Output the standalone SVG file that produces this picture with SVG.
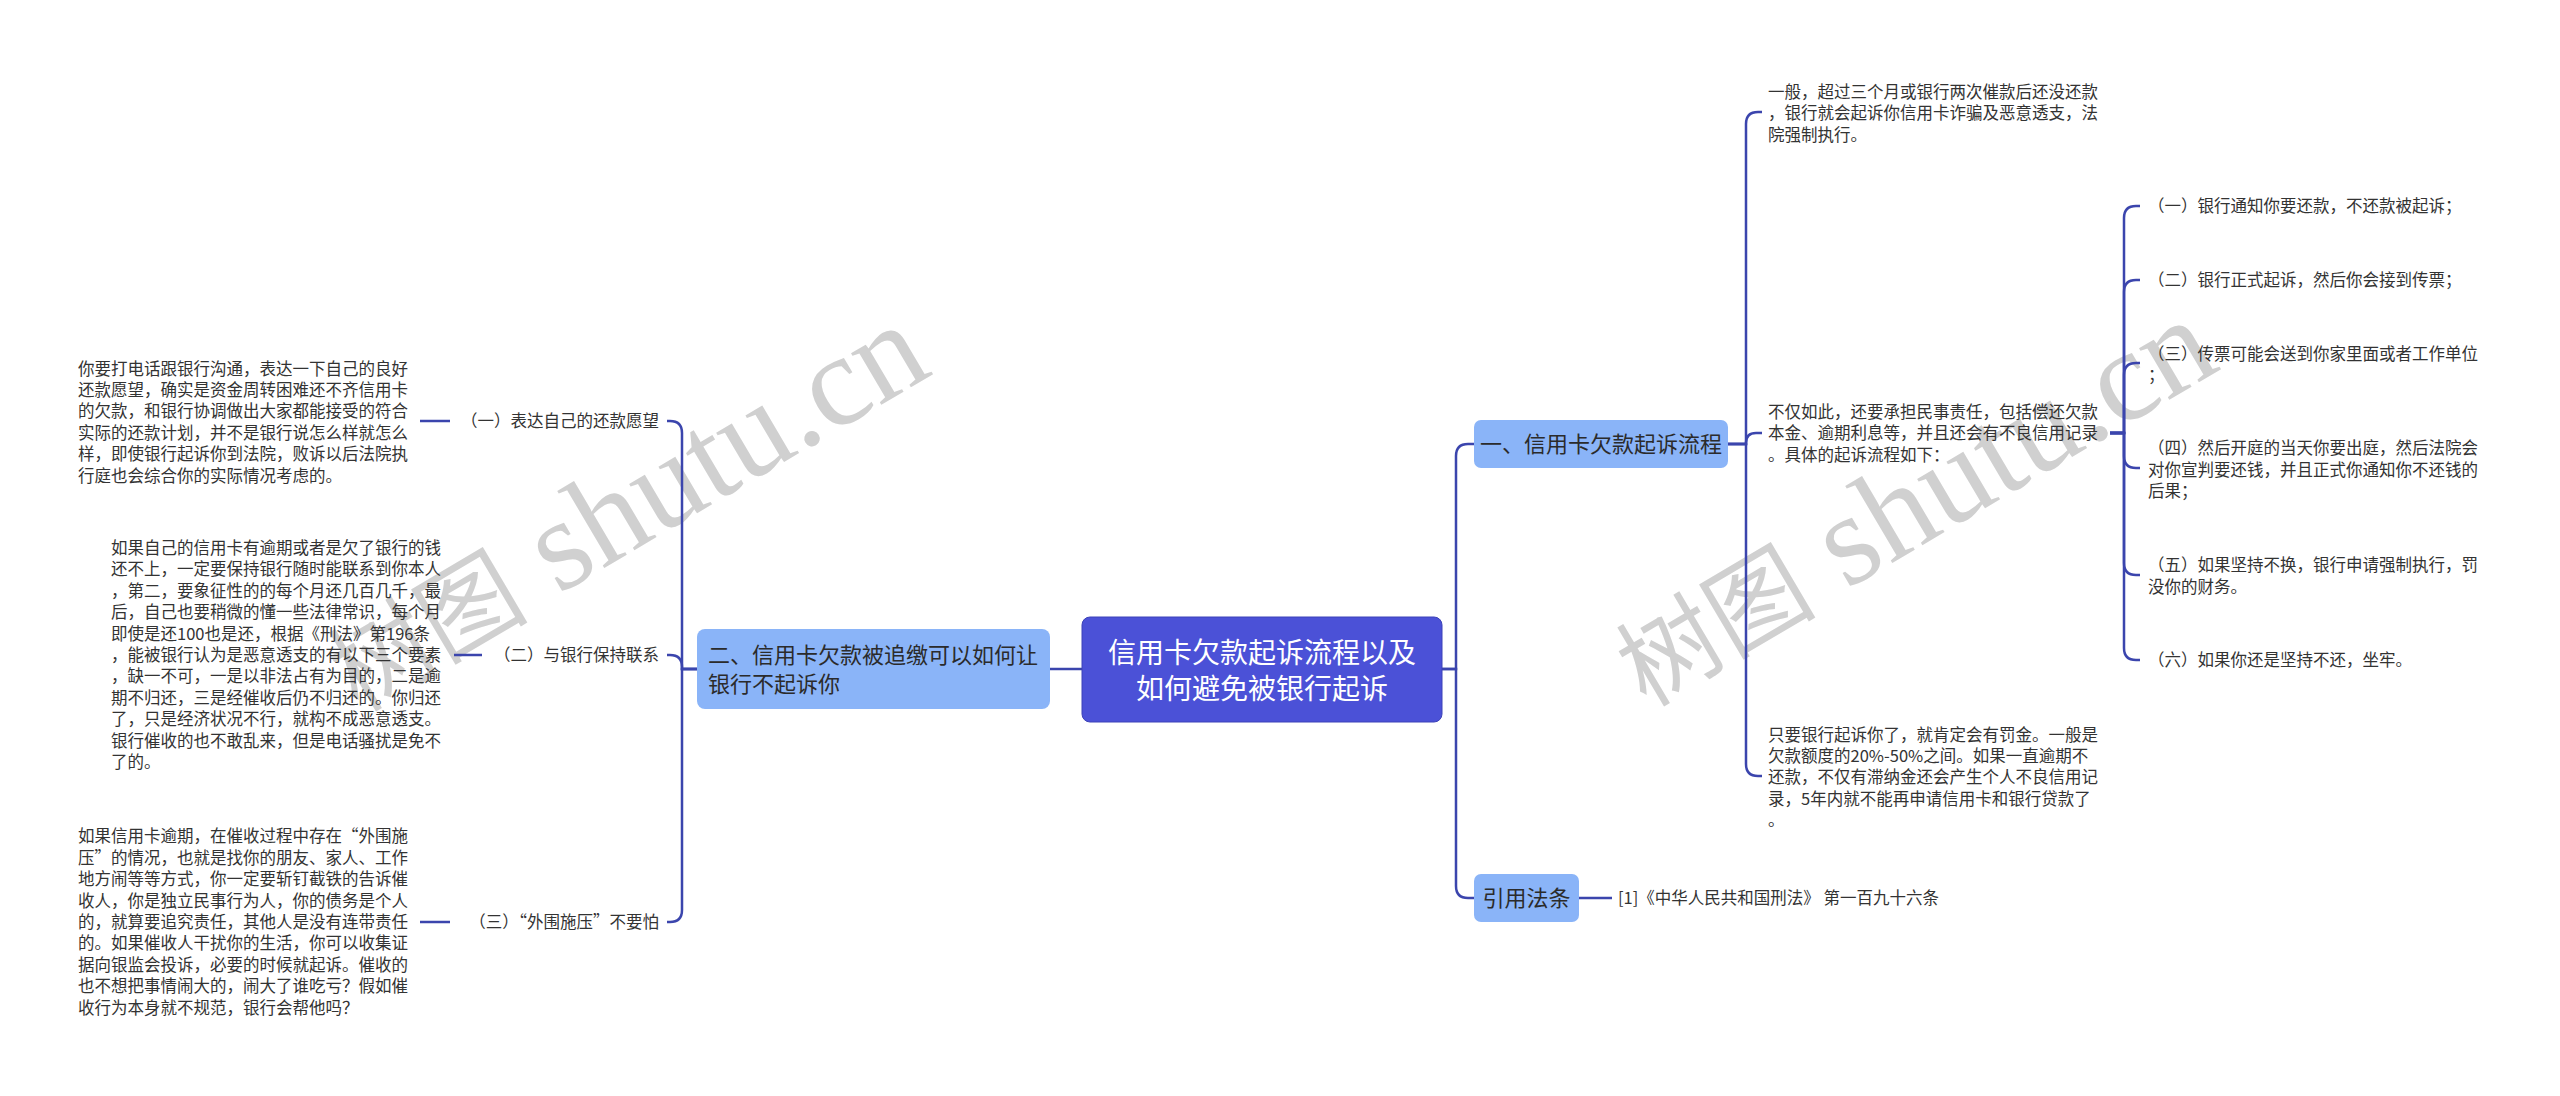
<svg xmlns="http://www.w3.org/2000/svg" width="2560" height="1096" viewBox="0 0 2560 1096">
<style>
.bg{fill:#ffffff}
.wm{fill:#d0d0d0;font-family:"Liberation Serif","Noto Sans CJK SC",serif}
.wmc{font-family:"Noto Sans CJK SC",serif;font-size:100px}
.wml{font-family:"Liberation Serif",serif;font-size:130px}
.t{font-family:"Noto Sans CJK SC","Liberation Sans",sans-serif;font-size:16.5px;fill:#333333}
.nt{font-family:"Noto Sans CJK SC","Liberation Sans",sans-serif;font-size:22px;fill:#2b2b2b}
.ct{font-family:"Noto Sans CJK SC","Liberation Sans",sans-serif;font-size:28px;fill:#ffffff}
.lb{fill:#8ab4f8}
.cn{fill:#4b51d7;stroke:#3c42b8;stroke-width:1}
.c{fill:none;stroke:#3b45ad;stroke-width:2.5}
</style>
<rect class="bg" x="0" y="0" width="2560" height="1096"/>
<g id="watermark">
<text class="wm" transform="translate(358,713) rotate(-30.5)"><tspan class="wmc">树图</tspan><tspan class="wml"> shutu.cn</tspan></text>
<text class="wm" transform="translate(1646,708) rotate(-30.5)"><tspan class="wmc">树图</tspan><tspan class="wml"> shutu.cn</tspan></text>
</g>
<g id="connectors">
<path class="c" d="M1082,669 L1050,669"/>
<path class="c" d="M697,669 L682,669 L682,433 Q682,421 670,421 L667,421"/>
<path class="c" d="M697,669 L682,669 L682,667 Q682,655 670,655 L667,655"/>
<path class="c" d="M697,669 L682,669 L682,910 Q682,922 670,922 L667,922"/>
<path class="c" d="M450,421 L420,421"/>
<path class="c" d="M482,655 L454,655"/>
<path class="c" d="M450,922 L420,922"/>
<path class="c" d="M1442,669 L1456,669 L1456,456 Q1456,444 1468,444 L1474,444"/>
<path class="c" d="M1442,669 L1456,669 L1456,886 Q1456,898 1468,898 L1474,898"/>
<path class="c" d="M1728,444 L1746,444 L1746,124 Q1746,112 1758,112 L1762,112"/>
<path class="c" d="M1728,444 L1746,444 L1746,443 Q1746,433 1756,433 L1762,433"/>
<path class="c" d="M1728,444 L1746,444 L1746,764 Q1746,776 1758,776 L1762,776"/>
<path class="c" d="M1579,898 L1612,898"/>
<path class="c" d="M2110,433 L2124,433 L2124,218 Q2124,206 2136,206 L2140,206"/>
<path class="c" d="M2110,433 L2124,433 L2124,292 Q2124,280 2136,280 L2140,280"/>
<path class="c" d="M2110,433 L2124,433 L2124,375 Q2124,363 2136,363 L2140,363"/>
<path class="c" d="M2110,433 L2124,433 L2124,456 Q2124,468 2136,468 L2140,468"/>
<path class="c" d="M2110,433 L2124,433 L2124,563 Q2124,575 2136,575 L2140,575"/>
<path class="c" d="M2110,433 L2124,433 L2124,648 Q2124,660 2136,660 L2140,660"/>
</g>
<g id="root">
<rect class="cn" x="1082" y="617" width="360" height="105" rx="8"/>
<text class="ct" text-anchor="middle"><tspan x="1262" y="663">信用卡欠款起诉流程以及</tspan><tspan x="1262" y="699">如何避免被银行起诉</tspan></text>
</g>
<g id="branch2">
<rect class="lb" x="697" y="629" width="353" height="80" rx="8"/>
<text class="nt"><tspan x="708" y="663">二、信用卡欠款被追缴可以如何让</tspan><tspan x="708" y="692">银行不起诉你</tspan></text>
</g>
<g id="label2-1"><text class="t" x="659" y="427" text-anchor="end">（一）表达自己的还款愿望</text></g>
<g id="label2-2"><text class="t" x="659" y="661" text-anchor="end">（二）与银行保持联系</text></g>
<g id="label2-3"><text class="t" x="659" y="928" text-anchor="end">（三）“外围施压”不要怕</text></g>
<g id="para2-1">
<text class="t"><tspan x="78" y="374.5">你要打电话跟银行沟通，表达一下自己的良好</tspan><tspan x="78" dy="21.4">还款愿望，确实是资金周转困难还不齐信用卡</tspan><tspan x="78" dy="21.4">的欠款，和银行协调做出大家都能接受的符合</tspan><tspan x="78" dy="21.4">实际的还款计划，并不是银行说怎么样就怎么</tspan><tspan x="78" dy="21.4">样，即使银行起诉你到法院，败诉以后法院执</tspan><tspan x="78" dy="21.4">行庭也会综合你的实际情况考虑的。</tspan></text>
</g>
<g id="para2-2">
<text class="t"><tspan x="111" y="554">如果自己的信用卡有逾期或者是欠了银行的钱</tspan><tspan x="111" dy="21.4">还不上，一定要保持银行随时能联系到你本人</tspan><tspan x="111" dy="21.4">，第二，要象征性的的每个月还几百几千，最</tspan><tspan x="111" dy="21.4">后，自己也要稍微的懂一些法律常识，每个月</tspan><tspan x="111" dy="21.4">即使是还100也是还，根据《刑法》第196条</tspan><tspan x="111" dy="21.4">，能被银行认为是恶意透支的有以下三个要素</tspan><tspan x="111" dy="21.4">，缺一不可，一是以非法占有为目的，二是逾</tspan><tspan x="111" dy="21.4">期不归还，三是经催收后仍不归还的。你归还</tspan><tspan x="111" dy="21.4">了，只是经济状况不行，就构不成恶意透支。</tspan><tspan x="111" dy="21.4">银行催收的也不敢乱来，但是电话骚扰是免不</tspan><tspan x="111" dy="21.4">了的。</tspan></text>
</g>
<g id="para2-3">
<text class="t"><tspan x="78" y="842.4">如果信用卡逾期，在催收过程中存在“外围施</tspan><tspan x="78" dy="21.4">压”的情况，也就是找你的朋友、家人、工作</tspan><tspan x="78" dy="21.4">地方闹等等方式，你一定要斩钉截铁的告诉催</tspan><tspan x="78" dy="21.4">收人，你是独立民事行为人，你的债务是个人</tspan><tspan x="78" dy="21.4">的，就算要追究责任，其他人是没有连带责任</tspan><tspan x="78" dy="21.4">的。如果催收人干扰你的生活，你可以收集证</tspan><tspan x="78" dy="21.4">据向银监会投诉，必要的时候就起诉。催收的</tspan><tspan x="78" dy="21.4">也不想把事情闹大的，闹大了谁吃亏？假如催</tspan><tspan x="78" dy="21.4">收行为本身就不规范，银行会帮他吗？</tspan></text>
</g>
<g id="branch1">
<rect class="lb" x="1474" y="420" width="254" height="48" rx="7"/>
<text class="nt" x="1601" y="452.4" text-anchor="middle">一、信用卡欠款起诉流程</text>
</g>
<g id="para1-1">
<text class="t"><tspan x="1768" y="98">一般，超过三个月或银行两次催款后还没还款</tspan><tspan x="1768" dy="21.4">，银行就会起诉你信用卡诈骗及恶意透支，法</tspan><tspan x="1768" dy="21.4">院强制执行。</tspan></text>
</g>
<g id="para1-2">
<text class="t"><tspan x="1768" y="418">不仅如此，还要承担民事责任，包括偿还欠款</tspan><tspan x="1768" dy="21.4">本金、逾期利息等，并且还会有不良信用记录</tspan><tspan x="1768" dy="21.4">。具体的起诉流程如下：</tspan></text>
</g>
<g id="para1-3">
<text class="t"><tspan x="1768" y="740.5">只要银行起诉你了，就肯定会有罚金。一般是</tspan><tspan x="1768" dy="21.4">欠款额度的20%-50%之间。如果一直逾期不</tspan><tspan x="1768" dy="21.4">还款，不仅有滞纳金还会产生个人不良信用记</tspan><tspan x="1768" dy="21.4">录，5年内就不能再申请信用卡和银行贷款了</tspan><tspan x="1768" dy="21.4">。</tspan></text>
</g>
<g id="step1"><text class="t" x="2148" y="212">（一）银行通知你要还款，不还款被起诉；</text></g>
<g id="step2"><text class="t" x="2148" y="286">（二）银行正式起诉，然后你会接到传票；</text></g>
<g id="step3"><text class="t"><tspan x="2148" y="359.8">（三）传票可能会送到你家里面或者工作单位</tspan><tspan x="2148" dy="21.4">；</tspan></text></g>
<g id="step4"><text class="t"><tspan x="2148" y="454.3">（四）然后开庭的当天你要出庭，然后法院会</tspan><tspan x="2148" dy="21.4">对你宣判要还钱，并且正式你通知你不还钱的</tspan><tspan x="2148" dy="21.4">后果；</tspan></text></g>
<g id="step5"><text class="t"><tspan x="2148" y="571.3">（五）如果坚持不换，银行申请强制执行，罚</tspan><tspan x="2148" dy="21.4">没你的财务。</tspan></text></g>
<g id="step6"><text class="t" x="2148" y="666">（六）如果你还是坚持不还，坐牢。</text></g>
<g id="branch3">
<rect class="lb" x="1474" y="874" width="105" height="48" rx="7"/>
<text class="nt" x="1526.5" y="906.4" text-anchor="middle">引用法条</text>
</g>
<g id="law"><text class="t" x="1618" y="904">[1]《中华人民共和国刑法》 第一百九十六条</text></g>
</svg>
